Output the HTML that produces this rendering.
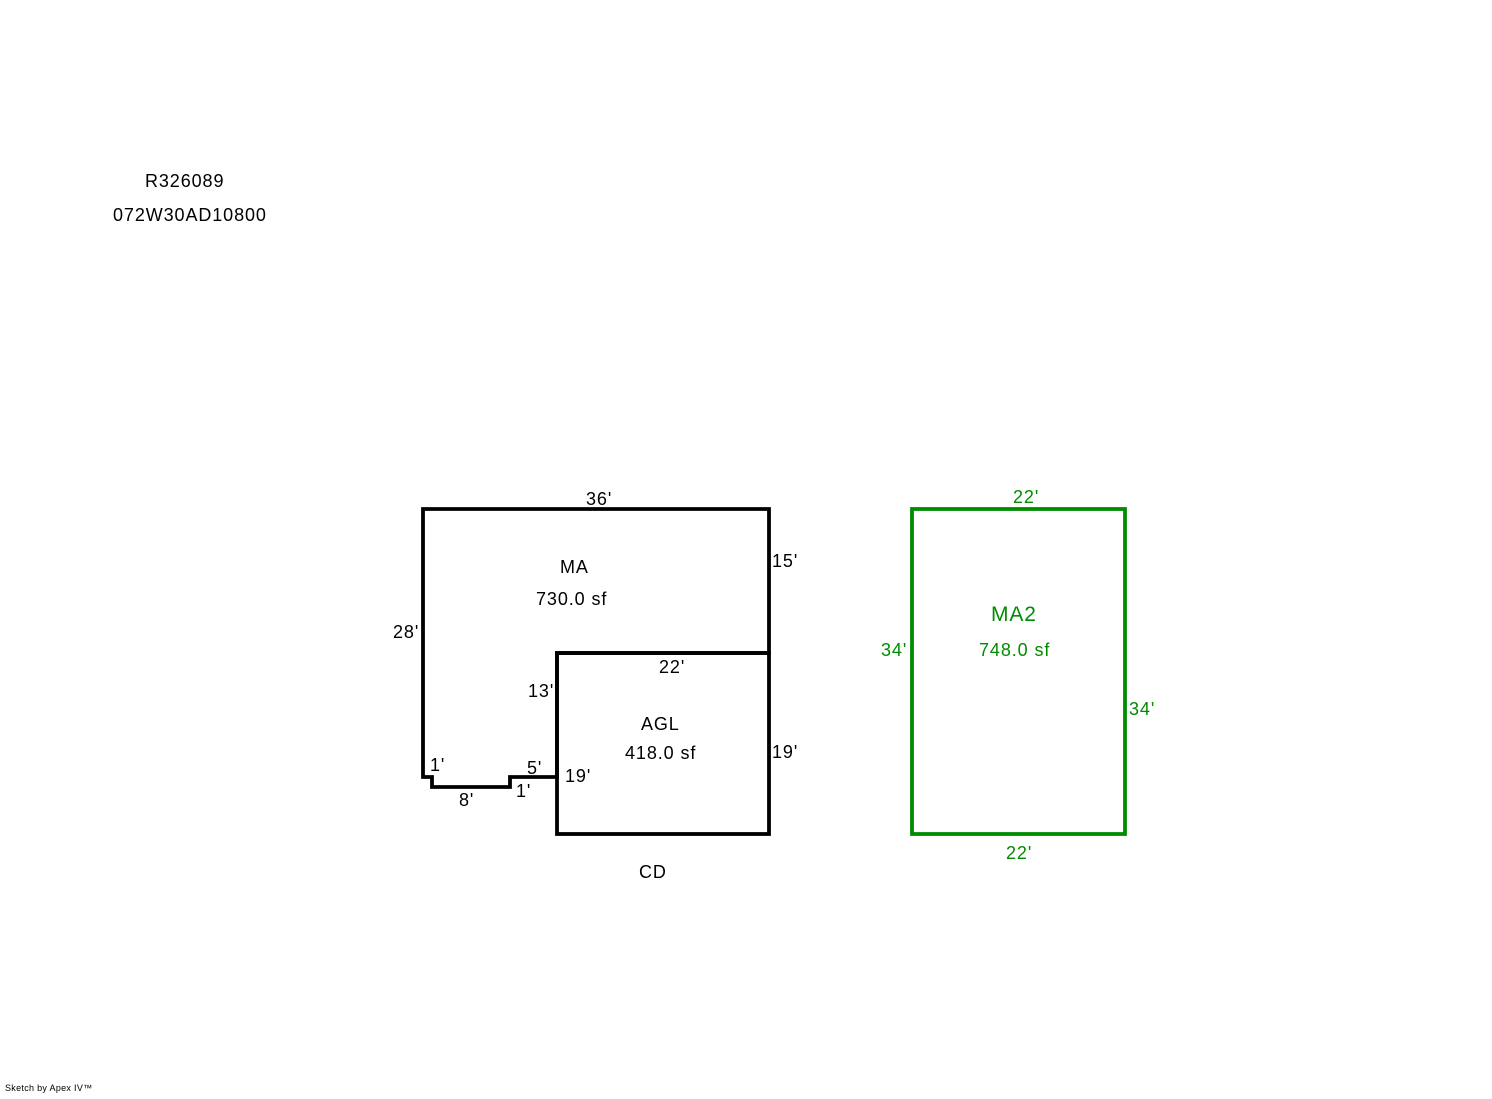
<!DOCTYPE html>
<html><head><style>html,body{margin:0;padding:0;background:#fff}</style></head>
<body>
<svg width="1492" height="1094" xmlns="http://www.w3.org/2000/svg" font-family="Liberation Sans, Arial, sans-serif" font-size="18" letter-spacing="0.9">
<rect width="1492" height="1094" fill="#fff"/>
<text x="145" y="187">R326089</text>
<text x="113" y="221">072W30AD10800</text>
<path d="M423,509 H769 V653 H557 V777 H510 V787 H432 V777 H423 Z" fill="none" stroke="#000" stroke-width="3.8"/>
<rect x="557" y="653" width="212" height="181" fill="none" stroke="#000" stroke-width="3.8"/>
<rect x="912" y="509" width="213" height="325" fill="none" stroke="#008C00" stroke-width="3.8"/>
<g fill="#000">
<text x="586" y="505">36'</text>
<text x="772" y="567">15'</text>
<text x="393" y="638">28'</text>
<text x="560" y="573">MA</text>
<text x="536" y="605">730.0 sf</text>
<text x="659" y="673">22'</text>
<text x="528" y="697">13'</text>
<text x="641" y="730">AGL</text>
<text x="625" y="759">418.0 sf</text>
<text x="772" y="758">19'</text>
<text x="430" y="771">1'</text>
<text x="527" y="774">5'</text>
<text x="565" y="782">19'</text>
<text x="516" y="797">1'</text>
<text x="459" y="806">8'</text>
<text x="639" y="878">CD</text>
</g>
<g fill="#008C00">
<text x="1013" y="503">22'</text>
<text x="991" y="621" font-size="21">MA2</text>
<text x="881" y="656">34'</text>
<text x="979" y="656">748.0 sf</text>
<text x="1129" y="715">34'</text>
<text x="1006" y="859">22'</text>
</g>
<text x="5" y="1091" font-size="9" letter-spacing="0.3">Sketch by Apex IV™</text>
</svg>
</body></html>
